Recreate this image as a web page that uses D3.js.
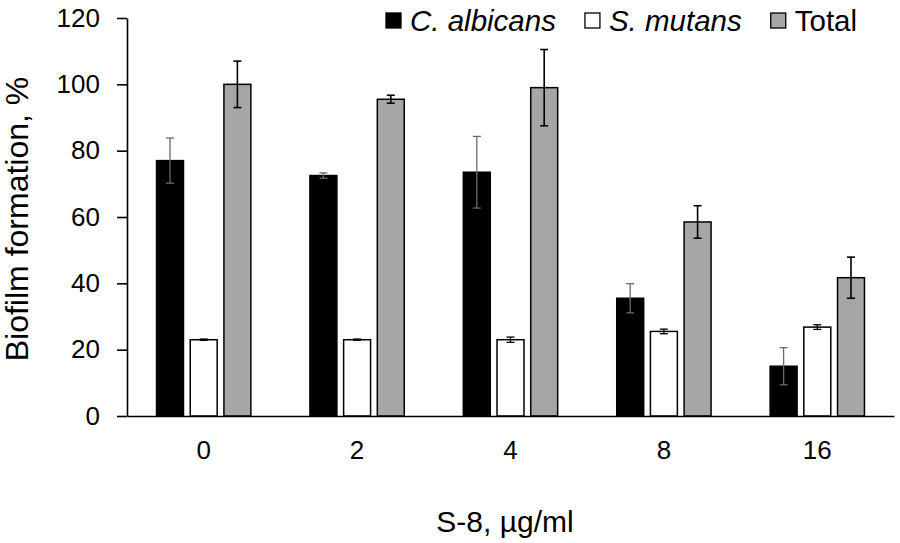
<!DOCTYPE html>
<html>
<head>
<meta charset="utf-8">
<script src="https://cdn.jsdelivr.net/npm/d3@7"></script>
<style>
  body { margin: 0; background: #fff; }
  text { font-family: "Liberation Sans", Arial, sans-serif; fill: #000; }
</style>
</head>
<body>
<svg id="chart" width="900" height="543"></svg>
<script>
// concentrations on the x axis
const doses = ["0", "2", "4", "8", "16"];
const seriesNames = ["C. albicans", "S. mutans", "Total"];

// biofilm formation, %
const albicans = [77, 72.5, 73.5, 35.5, 15];
const albicansErr = [6.8, 0.8, 10.8, 4.4, 5.6];
const mutans = [23, 23, 23, 25.5, 26.8];
const mutansErr = [0.2, 0.2, 0.8, 0.7, 0.7];
const total = [100, 95.5, 99, 58.5, 41.7];
const totalErr = [7, 1.2, 11.5, 4.9, 6.2];

const yTicks = [0, 20, 40, 60, 80, 100, 120];

const fills = { "C. albicans": "#000", "S. mutans": "#fff", "Total": "#a6a6a6" };
const errColor = { "C. albicans": "#6a6a6a", "S. mutans": "#000", "Total": "#000" };

const svg = d3.select("#chart");
// plot box (window.top is taken, so prefixed names)
const plotLeft = 127, plotRight = 894, plotTop = 18, plotBottom = 416;

const x0 = d3.scaleBand().domain(doses).range([plotLeft, plotRight])
  .paddingInner(0.385).paddingOuter(0.1925);
const x1 = d3.scaleBand().domain(seriesNames).range([0, x0.bandwidth()])
  .paddingInner(0.2);
const y = d3.scaleLinear().domain([0, 120]).range([plotBottom, plotTop]);

// flatten into rows
const valuesBySeries = { "C. albicans": albicans, "S. mutans": mutans, "Total": total };
const errBySeries = { "C. albicans": albicansErr, "S. mutans": mutansErr, "Total": totalErr };
const rows = [];
doses.forEach((d, i) => {
  seriesNames.forEach((s) => {
    rows.push({ dose: d, series: s, value: valuesBySeries[s][i], err: errBySeries[s][i] });
  });
});

// bars
svg.append("g")
  .selectAll("rect")
  .data(rows)
  .join("rect")
  .attr("x", (d) => x0(d.dose) + x1(d.series))
  .attr("y", (d) => y(d.value))
  .attr("width", x1.bandwidth())
  .attr("height", (d) => y(0) - y(d.value))
  .attr("fill", (d) => fills[d.series])
  .attr("stroke", "#000")
  .attr("stroke-width", 1.5);

// error bars
const eg = svg.append("g")
  .selectAll("g")
  .data(rows)
  .join("g")
  .attr("stroke", (d) => errColor[d.series])
  .attr("stroke-width", (d) => (d.series === "Total" ? 1.6 : 1.3));
const cx = (d) => x0(d.dose) + x1(d.series) + x1.bandwidth() / 2;
eg.append("line")
  .attr("x1", cx).attr("x2", cx)
  .attr("y1", (d) => y(d.value + d.err)).attr("y2", (d) => y(d.value - d.err));
eg.append("line")
  .attr("x1", (d) => cx(d) - 4).attr("x2", (d) => cx(d) + 4)
  .attr("y1", (d) => y(d.value + d.err)).attr("y2", (d) => y(d.value + d.err));
eg.append("line")
  .attr("x1", (d) => cx(d) - 4).attr("x2", (d) => cx(d) + 4)
  .attr("y1", (d) => y(d.value - d.err)).attr("y2", (d) => y(d.value - d.err));

// y axis
const yAxis = svg.append("g")
  .attr("transform", `translate(${plotLeft},0)`)
  .call(d3.axisLeft(y).tickValues(yTicks).tickSize(10).tickSizeOuter(0).tickPadding(17));
yAxis.selectAll("text").attr("font-size", "26px").attr("font-family", null);
yAxis.selectAll("path, line").attr("stroke", "#000").attr("stroke-width", 1.6);

// x axis
const xAxis = svg.append("g")
  .attr("transform", `translate(0,${plotBottom})`)
  .call(d3.axisBottom(x0).tickSize(0).tickSizeOuter(0).tickPadding(25));
xAxis.selectAll("text").attr("font-size", "26px").attr("font-family", null);
xAxis.selectAll("path").attr("stroke", "#000").attr("stroke-width", 1.6);

// axis titles
svg.append("text")
  .attr("transform", `translate(28,${(plotTop + plotBottom) / 2 + 2}) rotate(-90)`)
  .attr("text-anchor", "middle")
  .attr("font-size", "32px")
  .text("Biofilm formation, %");

svg.append("text")
  .attr("x", 505)
  .attr("y", 532)
  .attr("text-anchor", "middle")
  .attr("font-size", "30px")
  .text("S-8, µg/ml");

// legend
const legend = svg.append("g");
let lx = 386;
seriesNames.forEach((s) => {
  legend.append("rect")
    .attr("x", lx).attr("y", 13)
    .attr("width", 15).attr("height", 15)
    .attr("fill", fills[s])
    .attr("stroke", "#000").attr("stroke-width", 1.3);
  const t = legend.append("text")
    .attr("x", lx + 24).attr("y", 31)
    .attr("font-size", "29.5px")
    .attr("font-style", s === "Total" ? "normal" : "italic")
    .text(s);
  lx += 24 + t.node().getComputedTextLength() + 29;
});
</script>
</body>
</html>
